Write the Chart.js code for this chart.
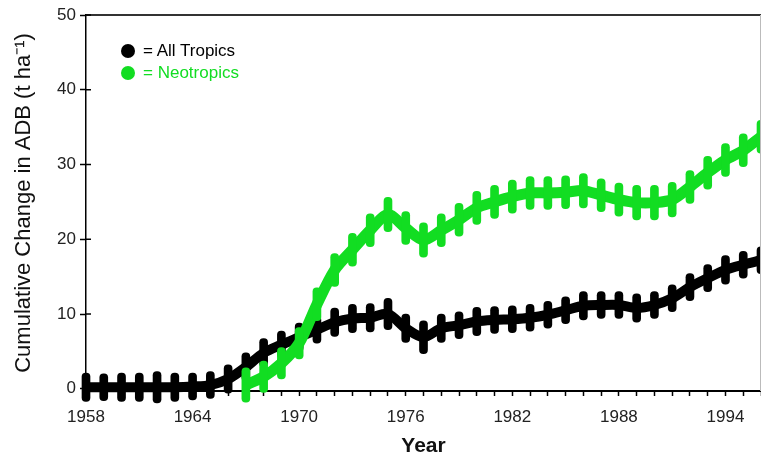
<!DOCTYPE html>
<html>
<head>
<meta charset="utf-8">
<title>Cumulative Change in ADB</title>
<script src="https://cdn.jsdelivr.net/npm/chart.js@4.4.1/dist/chart.umd.min.js"></script>
<style>
    html, body { margin: 0; padding: 0; background: #fff; }
    #wrap { position: relative; width: 761px; height: 455px; overflow: hidden; }
    #legend { position: absolute; left: 121px; top: 40px; font: 17px "Liberation Sans", Arial, sans-serif; }
    #legend div { height: 22px; line-height: 22px; white-space: nowrap; }
    #legend span.dot { display: inline-block; width: 14px; height: 14px; border-radius: 50%;
                       vertical-align: -2px; margin-right: 8px; }
</style>
</head>
<body>
<div id="wrap">
    <canvas id="chart" width="761" height="455"></canvas>
    <div id="legend">
        <div style="color:#000"><span class="dot" style="background:#000"></span>= All Tropics</div>
        <div style="color:#12dd22"><span class="dot" style="background:#12dd22"></span>= Neotropics</div>
    </div>
</div>
<script>
// Valeurs (centre de la courbe à chaque année + demi-amplitude saisonnière)
var years = [1958, 1959, 1960, 1961, 1962, 1963, 1964, 1965, 1966, 1967,
             1968, 1969, 1970, 1971, 1972, 1973, 1974, 1975, 1976, 1977,
             1978, 1979, 1980, 1981, 1982, 1983, 1984, 1985, 1986, 1987,
             1988, 1989, 1990, 1991, 1992, 1993, 1994, 1995, 1996];

var allTropics = [0.2, 0.2, 0.2, 0.2, 0.2, 0.2, 0.3, 0.5, 1.3, 2.9,
                  4.8, 5.9, 6.9, 7.9, 8.9, 9.4, 9.5, 10.0, 8.1, 6.9,
                  8.1, 8.5, 9.0, 9.2, 9.3, 9.5, 9.9, 10.5, 11.1, 11.2,
                  11.2, 10.8, 11.2, 12.1, 13.6, 14.8, 15.9, 16.6, 17.2];

var allSwing = [1.9, 1.8, 1.9, 1.9, 2.1, 1.9, 1.8, 1.8, 1.9, 1.9,
                1.9, 1.8, 1.9, 1.8, 1.9, 1.9, 1.9, 2.1, 1.9, 2.2,
                1.9, 1.8, 1.9, 1.8, 1.8, 1.8, 1.8, 1.8, 1.9, 1.8,
                1.8, 1.9, 1.8, 1.8, 1.8, 1.8, 1.9, 1.8, 1.8];

var neoYears = [1967, 1968, 1969, 1970, 1971, 1972, 1973, 1974, 1975, 1976,
                1977, 1978, 1979, 1980, 1981, 1982, 1983, 1984, 1985, 1986,
                1987, 1988, 1989, 1990, 1991, 1992, 1993, 1994, 1995, 1996];

var neotropics = [0.5, 1.6, 3.4, 6.1, 11.3, 15.9, 18.6, 21.2, 23.3, 21.5,
                  19.9, 21.2, 22.6, 24.2, 25.0, 25.7, 26.2, 26.2, 26.3, 26.5,
                  25.9, 25.3, 24.9, 24.9, 25.3, 27.0, 28.9, 30.6, 31.9, 33.7];

var neoSwing = [2.3, 2.1, 2.1, 2.1, 2.2, 2.2, 2.2, 2.2, 2.3, 2.2,
                2.3, 2.2, 2.2, 2.2, 2.2, 2.2, 2.2, 2.2, 2.2, 2.3,
                2.2, 2.2, 2.3, 2.3, 2.3, 2.2, 2.2, 2.2, 2.2, 2.2];

var yTicks = [0, 10, 20, 30, 40, 50];
var xLabelEvery = 6;

var BLACK = '#000000';
var GREEN = '#12dd22';
var FONT = '"Liberation Sans", Arial, sans-serif';

function linePoints(xs, ys) {
    return xs.map(function (x, i) { return { x: x, y: ys[i] }; });
}
function swingBars(xs, ys, sw) {
    return xs.map(function (x, i) { return { x: x, y: [ys[i] - sw[i], ys[i] + sw[i]] }; });
}

// Cadre haut / droite + petites marques intérieures de l'axe Y
var framePlugin = {
    id: 'frame',
    afterDraw: function (chart) {
        var ctx = chart.ctx, a = chart.chartArea, ys = chart.scales.y;
        ctx.save();
        ctx.strokeStyle = '#333';
        ctx.lineWidth = 2;
        ctx.beginPath();
        ctx.moveTo(a.left, a.top);
        ctx.lineTo(a.right, a.top);
        ctx.stroke();
        ctx.strokeStyle = '#bbb';
        ctx.lineWidth = 1;
        ctx.beginPath();
        ctx.moveTo(a.right - 0.5, a.top);
        ctx.lineTo(a.right - 0.5, a.bottom);
        ctx.stroke();
        ctx.strokeStyle = '#000';
        ctx.lineWidth = 1.5;
        yTicks.forEach(function (t) {
            var py = ys.getPixelForValue(t);
            ctx.beginPath();
            ctx.moveTo(a.left, py);
            ctx.lineTo(a.left + 5, py);
            ctx.stroke();
        });
        ctx.restore();
    }
};

new Chart(document.getElementById('chart'), {
    type: 'line',
    data: {
        datasets: [
            {
                type: 'bar',
                label: 'Neotropics (saison)',
                data: swingBars(neoYears, neotropics, neoSwing),
                backgroundColor: GREEN,
                barThickness: 8,
                borderRadius: 4,
                borderSkipped: false,
                grouped: false,
                clip: false,
                order: 0
            },
            {
                type: 'line',
                label: 'Neotropics',
                data: linePoints(neoYears, neotropics),
                borderColor: GREEN,
                borderWidth: 11,
                pointRadius: 0,
                tension: 0.3,
                clip: false,
                order: 1
            },
            {
                type: 'bar',
                label: 'All Tropics (saison)',
                data: swingBars(years, allTropics, allSwing),
                backgroundColor: BLACK,
                barThickness: 8,
                borderRadius: 4,
                borderSkipped: false,
                grouped: false,
                clip: false,
                order: 2
            },
            {
                type: 'line',
                label: 'All Tropics',
                data: linePoints(years, allTropics),
                borderColor: BLACK,
                borderWidth: 10,
                pointRadius: 0,
                tension: 0.3,
                clip: false,
                order: 3
            }
        ]
    },
    options: {
        responsive: false,
        animation: false,
        devicePixelRatio: 1,
        layout: { padding: { top: 15, right: 0, bottom: 0, left: 0 } },
        plugins: {
            legend: { display: false },
            tooltip: { enabled: false }
        },
        scales: {
            x: {
                type: 'linear',
                min: years[0],
                max: years[years.length - 1],
                offset: false,
                grid: { drawOnChartArea: false, drawTicks: true, tickLength: 5, tickColor: '#000', tickWidth: 1.5, offset: false },
                border: { color: '#000', width: 2 },
                ticks: {
                    stepSize: 1,
                    autoSkip: false,
                    maxRotation: 0,
                    padding: 11,
                    color: '#222',
                    font: { family: FONT, size: 17 },
                    callback: function (v) {
                        return ((v - years[0]) % xLabelEvery === 0 && v < years[years.length - 1]) ? String(v) : '';
                    }
                },
                title: {
                    display: true,
                    text: 'Year',
                    color: '#111',
                    font: { family: FONT, size: 21, weight: 'bold', lineHeight: 1 },
                    padding: { top: 0, bottom: -2 }
                },
                afterFit: function (scale) {
                    scale.height = 64;
                    scale.paddingLeft = 0;
                    scale.paddingRight = 0;
                }
            },
            y: {
                min: -0.3,
                max: 50,
                grid: { drawOnChartArea: false, drawTicks: true, tickLength: 6, tickColor: '#000', tickWidth: 1.5 },
                border: { color: '#000', width: 1.5 },
                afterBuildTicks: function (scale) {
                    scale.ticks = yTicks.map(function (t) { return { value: t }; });
                },
                ticks: {
                    padding: 4,
                    color: '#222',
                    font: { family: FONT, size: 17 }
                },
                title: {
                    display: true,
                    text: 'Cumulative Change in ADB (t ha\u207B\u00B9)',
                    color: '#111',
                    font: { family: FONT, size: 22, lineHeight: 1 },
                    padding: { top: 13, bottom: 0 }
                },
                afterFit: function (scale) { scale.width = 86; }
            }
        }
    },
    plugins: [framePlugin]
});
</script>
</body>
</html>
